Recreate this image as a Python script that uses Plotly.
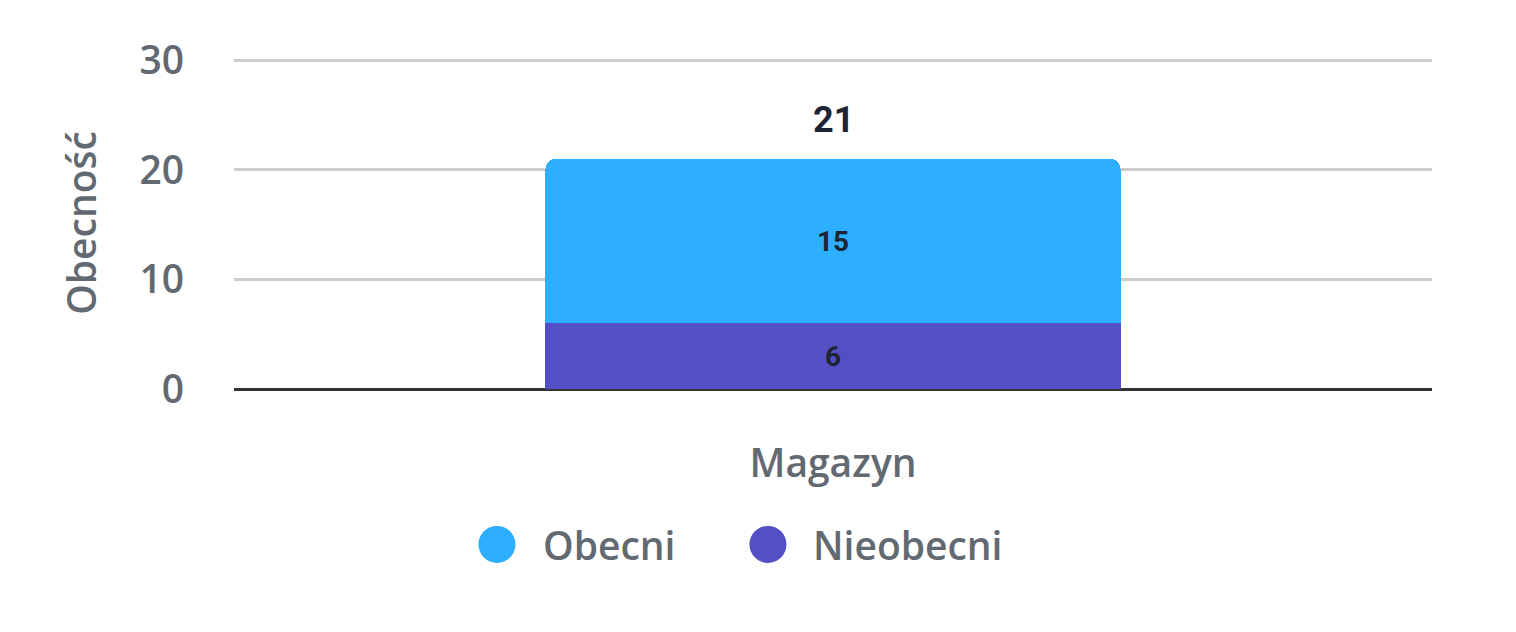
import plotly.graph_objects as go

categories = ["Magazyn"]
series_names = ["Nieobecni", "Obecni"]
nieobecni = [6]
obecni = [15]
colors = {"Obecni": "#2DAEFF", "Nieobecni": "#5350C6"}
y_ticks = [0, 10, 20, 30]

grey = "#626971"
dark = "#1E2433"
font_main = "Open Sans"

fig = go.Figure()
for name, vals in zip(series_names, [nieobecni, obecni]):
    fig.add_bar(
        name=name, x=categories, y=vals,
        marker=dict(color=colors[name], line=dict(width=0)),
        text=vals, textposition="inside", insidetextanchor="middle",
        textfont=dict(family="Roboto", size=28, color=dark, weight="bold"),
        showlegend=False, width=0.48,
    )

# total above the stack
totals = [a + b for a, b in zip(nieobecni, obecni)]
for c, t in zip(categories, totals):
    fig.add_annotation(x=c, y=t, text=str(t), showarrow=False, yanchor="bottom",
                       yshift=16, font=dict(family="Roboto", size=36, color=dark, weight="bold"))

# legend drawn as circles + text below the chart
legend_items = [("Obecni", 0.2195, 0.256), ("Nieobecni", 0.4457, 0.4816)]
for name, cx, tx in legend_items:
    fig.add_shape(type="circle", xref="paper", yref="paper",
                  xsizemode="pixel", ysizemode="pixel",
                  xanchor=cx, yanchor=-0.468, x0=-18.5, x1=18.5, y0=-18.5, y1=18.5,
                  fillcolor=colors[name], line=dict(width=0))
    fig.add_annotation(x=tx, y=-0.468, xref="paper", yref="paper", text=name,
                       showarrow=False, xanchor="left", yanchor="middle",
                       font=dict(family=font_main, size=39, color=grey, weight=600))

fig.update_layout(
    barmode="stack",
    barcornerradius=10,
    width=1516, height=632,
    margin=dict(l=226, r=92, t=49, b=251),
    plot_bgcolor="white", paper_bgcolor="white",
    showlegend=False,
    font=dict(family=font_main, color=grey),
)
fig.update_yaxes(
    range=[0, 30.3], tickvals=y_ticks, showgrid=True, gridcolor="#CCCCCC", gridwidth=3,
    zeroline=True, zerolinecolor="#333333", zerolinewidth=3,
    tickfont=dict(size=39, color=grey, weight=600), ticklabelstandoff=49,
    title=dict(text="Obecność", font=dict(size=39, color=grey, weight=600), standoff=30),
    showline=False,
)
fig.update_xaxes(
    tickfont=dict(size=39, color=grey, weight=600), ticklabelstandoff=48,
    showgrid=False, showline=False,
)

fig.write_html("out.html")
